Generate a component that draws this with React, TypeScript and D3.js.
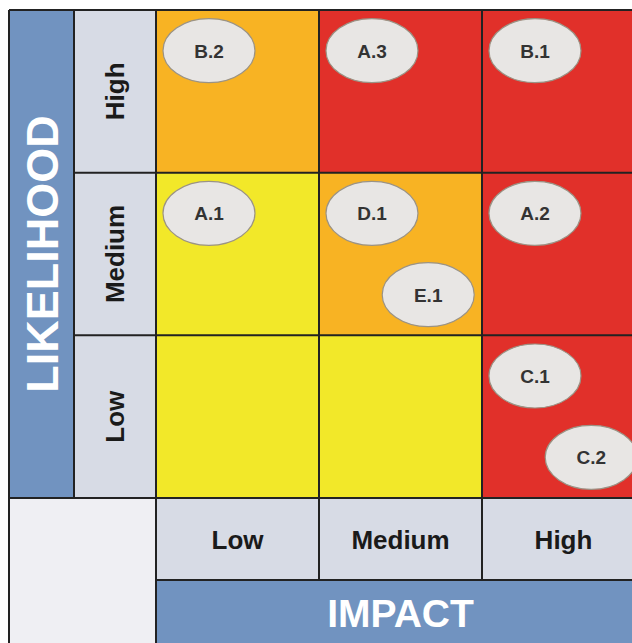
import React from "react";
import * as d3 from "d3";

// axis categories
const impactLevels = ["Low", "Medium", "High"];
const likelihoodLevels = ["High", "Medium", "Low"]; // top to bottom

// rating of each cell, rows follow likelihoodLevels, columns impactLevels
const cellRatings = [
  ["moderate", "severe", "severe"],
  ["minor", "moderate", "severe"],
  ["minor", "minor", "severe"],
];

// risks placed on the matrix
const riskIds = ["B.2", "A.3", "B.1", "A.1", "D.1", "E.1", "A.2", "C.1", "C.2"];
const riskImpact = ["Low", "Medium", "High", "Low", "Medium", "Medium", "High", "High", "High"];
const riskLikelihood = ["High", "High", "High", "Medium", "Medium", "Medium", "Medium", "Low", "Low"];
const riskSlot = [0, 0, 0, 0, 0, 1, 0, 0, 1]; // 0 = upper left of cell, 1 = lower right

const ratingColor: Record<string, string> = {
  minor: "#f2e829",
  moderate: "#f8b323",
  severe: "#e1302a",
};

const BLUE = "#7193c0";
const LABEL_BG = "#d7dbe5";
const CORNER_BG = "#efeff3";
const LINE = "#222";
const FONT = "Liberation Sans, Arial, sans-serif";

export default function App() {
  const left = 9;
  const top = 10;
  const gridX0 = 156;
  const gridY1 = 498;
  const cell = 163;
  const blueW = 65;
  const labelH = 82;

  const x = d3.scaleBand<string>().domain(impactLevels).range([gridX0, gridX0 + cell * 3]);
  const y = d3.scaleBand<string>().domain(likelihoodLevels).range([top, gridY1]);
  const bw = x.bandwidth();
  const bh = y.bandwidth();
  const right = gridX0 + cell * 3;
  const bottom = 670;

  const slotX = [0.325, 0.67];
  const slotY = [0.25, 0.75];

  return (
    <svg
      width={632}
      height={643}
      style={{ position: "absolute", left: 0, top: 0, background: "#fff" }}
    >
      {/* likelihood title band */}
      <rect x={left} y={top} width={blueW} height={gridY1 - top} fill={BLUE} />
      <text
        transform={`translate(${left + blueW / 2 + 16},${(top + gridY1) / 2}) rotate(-90)`}
        textAnchor="middle"
        fontFamily={FONT}
        fontWeight="bold"
        fontSize={45}
        fill="#fff"
      >
        LIKELIHOOD
      </text>

      {/* likelihood labels */}
      {likelihoodLevels.map((l) => (
        <g key={l}>
          <rect x={left + blueW} y={y(l)} width={gridX0 - left - blueW} height={bh} fill={LABEL_BG} />
          <text
            transform={`translate(${(left + blueW + gridX0) / 2 + 9},${(y(l) as number) + bh / 2}) rotate(-90)`}
            textAnchor="middle"
            fontFamily={FONT}
            fontWeight="bold"
            fontSize={26}
            fill="#1a1a1a"
          >
            {l}
          </text>
        </g>
      ))}

      {/* matrix cells */}
      {likelihoodLevels.map((l, ri) =>
        impactLevels.map((im, ci) => (
          <rect
            key={l + im}
            x={x(im)}
            y={y(l)}
            width={bw}
            height={bh}
            fill={ratingColor[cellRatings[ri][ci]]}
          />
        ))
      )}

      {/* corner */}
      <rect x={left} y={gridY1} width={gridX0 - left} height={bottom - gridY1} fill={CORNER_BG} />

      {/* impact labels */}
      {impactLevels.map((im) => (
        <g key={im}>
          <rect x={x(im)} y={gridY1} width={bw} height={labelH} fill={LABEL_BG} />
          <text
            x={(x(im) as number) + bw / 2}
            y={gridY1 + labelH / 2 + 10}
            textAnchor="middle"
            fontFamily={FONT}
            fontWeight="bold"
            fontSize={26}
            fill="#1a1a1a"
          >
            {im}
          </text>
        </g>
      ))}

      {/* impact title band */}
      <rect x={gridX0} y={gridY1 + labelH} width={right - gridX0} height={bottom - gridY1 - labelH} fill={BLUE} />
      <text
        x={(gridX0 + right) / 2}
        y={627}
        textAnchor="middle"
        fontFamily={FONT}
        fontWeight="bold"
        fontSize={39}
        fill="#fff"
      >
        IMPACT
      </text>

      {/* grid lines */}
      <g stroke={LINE} strokeWidth={2}>
        <line x1={left} y1={top} x2={right} y2={top} />
        <line x1={left} y1={top} x2={left} y2={bottom} />
        <line x1={left + blueW} y1={top} x2={left + blueW} y2={gridY1} />
        <line x1={gridX0} y1={top} x2={gridX0} y2={bottom} />
        {likelihoodLevels.slice(1).map((l) => (
          <line key={l} x1={left + blueW} y1={y(l)} x2={right} y2={y(l)} />
        ))}
        <line x1={left} y1={gridY1} x2={right} y2={gridY1} />
        <line x1={gridX0} y1={gridY1 + labelH} x2={right} y2={gridY1 + labelH} />
        {impactLevels.slice(1).map((im) => (
          <line key={im} x1={x(im)} y1={top} x2={x(im)} y2={gridY1 + labelH} />
        ))}
      </g>

      {/* risks */}
      {riskIds.map((id, i) => {
        const cx = (x(riskImpact[i]) as number) + bw * slotX[riskSlot[i]];
        const cy = (y(riskLikelihood[i]) as number) + bh * slotY[riskSlot[i]];
        return (
          <g key={id}>
            <ellipse cx={cx} cy={cy} rx={46} ry={32} fill="#e8e6e4" stroke="#9b9385" strokeWidth={1.2} />
            <text
              x={cx}
              y={cy + 7}
              textAnchor="middle"
              fontFamily={FONT}
              fontWeight="bold"
              fontSize={19}
              fill="#333"
            >
              {id}
            </text>
          </g>
        );
      })}
    </svg>
  );
}
